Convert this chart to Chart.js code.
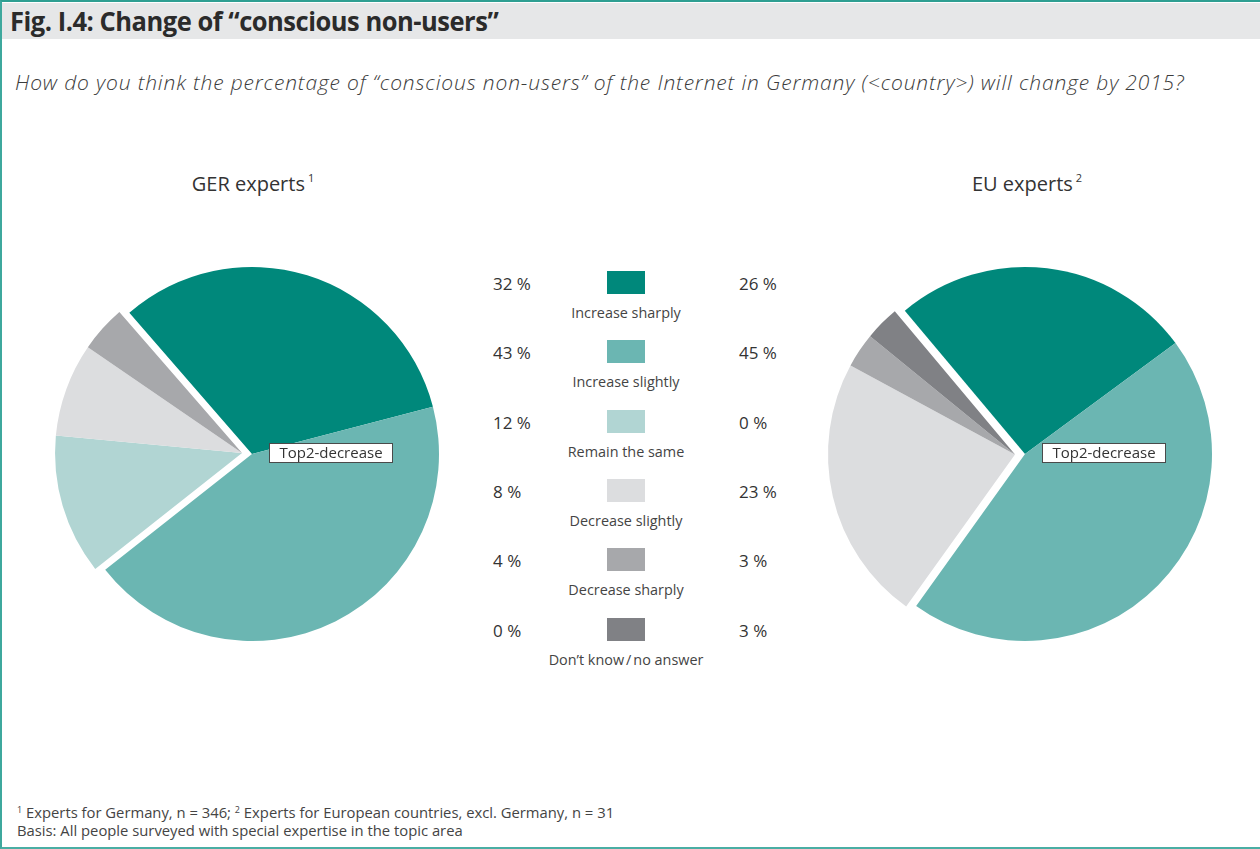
<!DOCTYPE html>
<html>
<head>
<meta charset="utf-8">
<title>Change of conscious non-users</title>
<script src="https://cdn.jsdelivr.net/npm/chart.js@4.4.1/dist/chart.umd.min.js"></script>
<style>
  body { margin: 0; background: #fff; font-family: 'Open Sans', sans-serif; color: #3a3a3a; }
  #frame { position: relative; width: 1258px; height: 845px; border-top: 2px solid #2f9f92; border-left: 2px solid #3ea89d; border-bottom: 2px solid #4aaea4; overflow: hidden; }
  #head { position: absolute; left: 0; top: 1px; width: 1258px; height: 36px; background: #e6e7e8; }
  #head h1 { margin: 0; position: absolute; left: 8px; top: -1px; font-size: 27px; font-weight: 700; color: #2b2b2b; letter-spacing: -0.5px; transform: scaleX(0.944); transform-origin: left center; white-space: nowrap; }
  #question { position: absolute; left: 13px; top: 66px; font-size: 21px; letter-spacing: 0.85px; font-style: italic; font-weight: 300; white-space: nowrap; color: #3c3c3c; }
  .pieTitle { position: absolute; top: 168px; width: 300px; text-align: center; font-size: 20px; color: #333; }
  .pieTitle sup { font-size: 11px; vertical-align: 9px; margin-left: 3px; }
  .pieBox { position: absolute; width: 420px; height: 400px; }
  .val { position: absolute; font-size: 17px; color: #333; white-space: nowrap; }
  .sw { position: absolute; width: 38px; height: 23px; }
  .lab { position: absolute; width: 240px; text-align: center; font-size: 14.4px; color: #444; white-space: nowrap; }
  .lab .sl { margin: 0 2px; }
  #notes { position: absolute; left: 15px; top: 799px; font-size: 14.8px; line-height: 18px; color: #444; }
  #notes sup { font-size: 9px; vertical-align: 5px; }
</style>
</head>
<body>
<div id="frame">
  <div id="head"><h1>Fig. I.4: Change of “conscious non-users”</h1></div>
  <div id="question">How do you think the percentage of “conscious non-users” of the Internet in Germany (&lt;country&gt;) will change by 2015?</div>
  <div class="pieTitle" style="left:101px">GER experts<sup>1</sup></div>
  <div class="pieTitle" style="left:875px">EU experts<sup>2</sup></div>
  <div class="pieBox" style="left:40px; top:252px"><canvas id="gerChart"></canvas></div>
  <div class="pieBox" style="left:813px; top:252px"><canvas id="euChart"></canvas></div>
  <div id="legend"></div>
  <div id="notes"><sup>1</sup> Experts for Germany, n = 346; <sup>2</sup> Experts for European countries, excl. Germany, n = 31<br>Basis: All people surveyed with special expertise in the topic area</div>
</div>
<script>
'use strict';
let categories = ['Increase sharply', 'Increase slightly', 'Remain the same',
    'Decrease slightly', 'Decrease sharply', 'Don\u2019t know/no answer'];
let gerValues = [32, 43, 12, 8, 4, 0];
let euValues = [26, 45, 0, 23, 3, 3];
let sliceColors = ['#00887b', '#6bb6b2', '#b1d5d3', '#dcdddf', '#a7a8ab', '#808185'];
// everything that is not an "increase" answer gets pushed out as one block
let pushedOut = [2, 3, 4, 5];
let boxText = 'Top2-decrease';

// middle legend: GER value | swatch + name | EU value
let legendEl = document.getElementById('legend');
for (let i = 0; i < categories.length; i++) {
    let top = 269 + i * 69.3;
    let gv = document.createElement('div');
    gv.className = 'val';
    gv.style.left = '491px';
    gv.style.top = (top + 1) + 'px';
    gv.textContent = gerValues[i] + ' %';
    legendEl.appendChild(gv);

    let sw = document.createElement('div');
    sw.className = 'sw';
    sw.style.left = '605px';
    sw.style.top = top + 'px';
    sw.style.background = sliceColors[i];
    legendEl.appendChild(sw);

    // a little air around the slash, the way the print set it
    let lab = document.createElement('div');
    lab.className = 'lab';
    lab.style.left = '504px';
    lab.style.top = (top + 32) + 'px';
    let parts = categories[i].split('/');
    parts.forEach((p, k) => {
        if (k > 0) {
            let sl = document.createElement('span');
            sl.className = 'sl';
            sl.textContent = '/';
            lab.appendChild(sl);
        }
        lab.appendChild(document.createTextNode(p));
    });
    legendEl.appendChild(lab);

    let ev = document.createElement('div');
    ev.className = 'val';
    ev.style.left = '737px';
    ev.style.top = (top + 1) + 'px';
    ev.textContent = euValues[i] + ' %';
    legendEl.appendChild(ev);
}

// moves a group of slices outward together, along the middle of the group
let explodeGroup = {
    id: 'explodeGroup',
    afterDatasetUpdate(chart, args, opts) {
        let arcs = args.meta.data;
        let idx = opts.indices;
        let start = arcs[idx[0]].startAngle;
        let end = arcs[idx[idx.length - 1]].endAngle;
        let mid = (start + end) / 2;
        for (let i of idx) {
            arcs[i].x += Math.cos(mid) * opts.distance;
            arcs[i].y += Math.sin(mid) * opts.distance;
        }
    }
};

// white tag with a thin frame, to the right of the pie centre
let centerTag = {
    id: 'centerTag',
    afterDraw(chart, args, opts) {
        let arc = chart.getDatasetMeta(0).data[0];
        let ctx = chart.ctx;
        let x = arc.x + 17;
        let y = arc.y - 11;
        ctx.save();
        ctx.fillStyle = '#fff';
        ctx.fillRect(x, y, 124, 20);
        ctx.strokeStyle = '#4a4a4a';
        ctx.lineWidth = 1;
        ctx.strokeRect(x + 0.5, y + 0.5, 123, 19);
        ctx.fillStyle = '#333';
        ctx.font = '15px "Open Sans"';
        ctx.textAlign = 'center';
        ctx.textBaseline = 'middle';
        ctx.fillText(opts.text, x + 62, y + 10.5);
        ctx.restore();
    }
};

function pieChart(canvasId, values, rotation) {
    let ctx = document.getElementById(canvasId).getContext('2d');
    return new Chart(ctx, {
        type: 'pie',
        data: {
            labels: categories,
            datasets: [{
                data: values,
                backgroundColor: sliceColors,
                borderWidth: 0
            }]
        },
        options: {
            responsive: true,
            maintainAspectRatio: false,
            animation: false,
            rotation: rotation,
            layout: { padding: { left: 23, right: 23, top: 13, bottom: 13 } },
            plugins: {
                legend: { display: false },
                tooltip: { enabled: false },
                explodeGroup: { indices: pushedOut, distance: 10 },
                centerTag: { text: boxText }
            }
        },
        plugins: [explodeGroup, centerTag]
    });
}

pieChart('gerChart', gerValues, -41);
pieChart('euChart', euValues, -40);
</script>
</body>
</html>
